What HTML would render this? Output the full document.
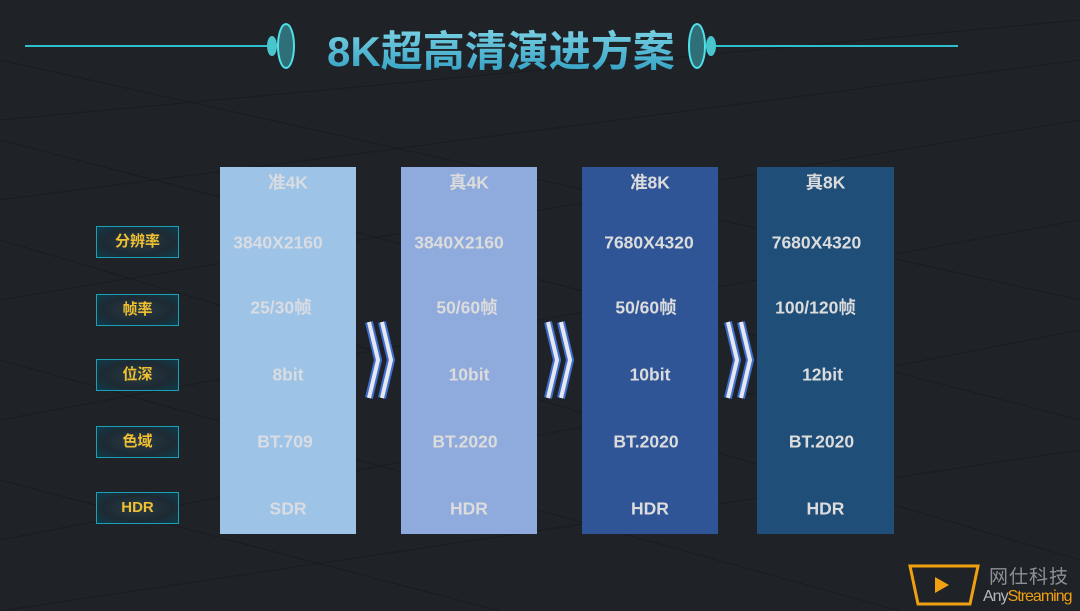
<!DOCTYPE html>
<html><head><meta charset="utf-8"><style>
*{margin:0;padding:0;box-sizing:border-box}
body{width:1080px;height:611px;overflow:hidden;background:#1f2227;position:relative;font-family:"Liberation Sans","Noto Sans CJK SC",sans-serif}
.abs{position:absolute}
.lab{position:absolute;left:96px;width:83px;height:32px;border:1.5px solid #1a9fb5;background:radial-gradient(ellipse at center,#2a3a44 0%,#1d2a33 60%,#0f3c4c 100%);color:#f0c030;font-weight:bold;font-size:15px;text-align:center;line-height:29px}
.col{position:absolute;top:167px;height:367px}
.t{position:absolute;width:100%;text-align:center;font-weight:bold;font-size:17.5px;color:#dcdcdc;transform:translateY(-50%)}
.c1 .t{color:#d9dde3}
.title{position:absolute;left:327px;top:18px;font-size:42px;font-weight:bold;letter-spacing:0px;background:linear-gradient(#8adbea,#2a9cc0);-webkit-background-clip:text;background-clip:text;color:transparent}
</style></head><body>
<svg class="abs" style="left:0;top:0" width="1080" height="611">
<g stroke="#17191d" stroke-width="1" fill="none" opacity="0.7">
<path d="M0 120 L1080 20 M0 200 L1080 60 M0 300 L1080 120 M0 420 L1080 220 M0 540 L1080 330 M0 611 L1080 450"/>
<path d="M0 60 L1080 300 M0 140 L1080 420 M0 240 L1080 560 M0 360 L900 611 M0 480 L500 611"/>
</g>
<line x1="25" y1="46" x2="268" y2="46" stroke="#2fc0cf" stroke-width="2"/>
<line x1="715" y1="46" x2="958" y2="46" stroke="#2fc0cf" stroke-width="2"/>
<ellipse cx="272" cy="46" rx="5" ry="10" fill="#48c6cc"/>
<ellipse cx="286" cy="46" rx="8" ry="22" fill="#2f6f78" stroke="#4fe0ea" stroke-width="2"/>
<ellipse cx="697" cy="46" rx="8" ry="22" fill="#2f6f78" stroke="#4fe0ea" stroke-width="2"/>
<ellipse cx="711" cy="46" rx="5" ry="10" fill="#48c6cc"/>
<g fill="none" stroke-linejoin="miter">
<g stroke="#3f6fd0" stroke-width="8">
<polyline points="369,322 378,360 369,398"/><polyline points="382,322 391,360 382,398"/>
<polyline points="548,322 557,360 548,398"/><polyline points="561,322 570,360 561,398"/>
<polyline points="728,322 737,360 728,398"/><polyline points="741,322 750,360 741,398"/>
</g>
<g stroke="#e6e8ee" stroke-width="4">
<polyline points="369,322 378,360 369,398"/><polyline points="382,322 391,360 382,398"/>
<polyline points="548,322 557,360 548,398"/><polyline points="561,322 570,360 561,398"/>
<polyline points="728,322 737,360 728,398"/><polyline points="741,322 750,360 741,398"/>
</g></g>
<polygon points="910,566 978,566 970,604 918,604" fill="none" stroke="#f0a010" stroke-width="3"/>
<polygon points="935,577 949,585 935,593" fill="#f0a010"/>
</svg>
<div class="title">8K超高清演进方案</div>
<div class="lab" style="top:226px">分辨率</div>
<div class="lab" style="top:294px">帧率</div>
<div class="lab" style="top:359px">位深</div>
<div class="lab" style="top:426px">色域</div>
<div class="lab" style="top:492px">HDR</div>

<div class="col c1" style="left:220px;width:136px;background:#9dc3e6">
<div class="t" style="top:15px">准4K</div><div class="t" style="top:76px;left:-10px">3840X2160</div><div class="t" style="top:140px;left:-7px">25/30帧</div><div class="t" style="top:208px">8bit</div><div class="t" style="top:275px;left:-3px">BT.709</div><div class="t" style="top:342px">SDR</div></div>
<div class="col" style="left:401px;width:136px;background:#8faadc">
<div class="t" style="top:15px">真4K</div><div class="t" style="top:76px;left:-10px">3840X2160</div><div class="t" style="top:140px;left:-2px">50/60帧</div><div class="t" style="top:208px">10bit</div><div class="t" style="top:275px;left:-4px">BT.2020</div><div class="t" style="top:342px">HDR</div></div>
<div class="col" style="left:582px;width:136px;background:#2f5597">
<div class="t" style="top:15px">准8K</div><div class="t" style="top:76px;left:-1px">7680X4320</div><div class="t" style="top:140px;left:-4px">50/60帧</div><div class="t" style="top:208px">10bit</div><div class="t" style="top:275px;left:-4px">BT.2020</div><div class="t" style="top:342px">HDR</div></div>
<div class="col" style="left:757px;width:137px;background:#1f4e79">
<div class="t" style="top:15px">真8K</div><div class="t" style="top:76px;left:-9px">7680X4320</div><div class="t" style="top:140px;left:-10px">100/120帧</div><div class="t" style="top:208px;left:-3px">12bit</div><div class="t" style="top:275px;left:-4px">BT.2020</div><div class="t" style="top:342px">HDR</div></div>

<div class="abs" style="left:989px;top:562px;font-size:19px;color:#8d9196;letter-spacing:1px">网仕科技</div>
<div class="abs" style="left:983px;top:588px;font-size:16px;color:#b7babd;letter-spacing:-1px;white-space:nowrap">Any<span style="color:#f0a010">Streaming</span></div>
</body></html>
